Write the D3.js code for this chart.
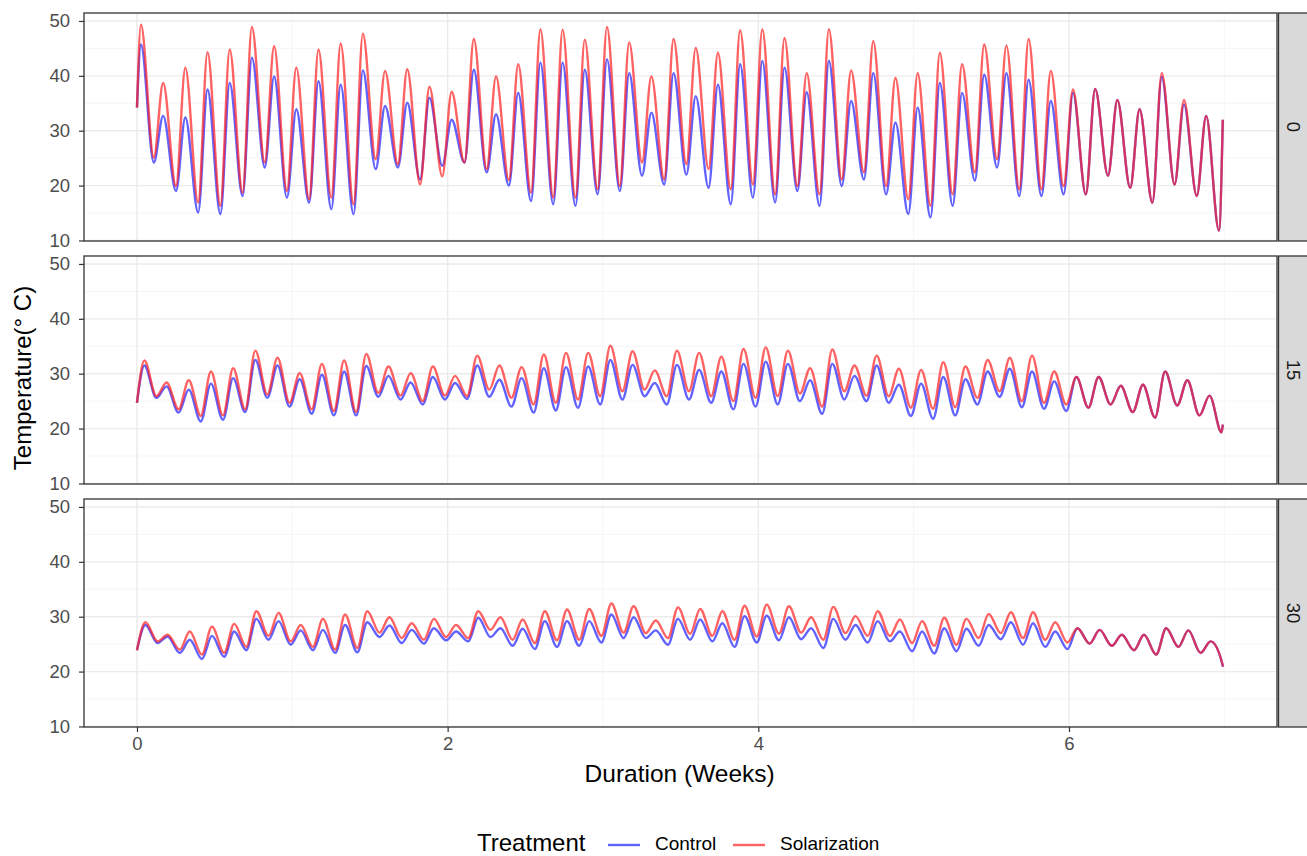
<!DOCTYPE html>
<html>
<head>
<meta charset="utf-8">
<script src="https://cdn.jsdelivr.net/npm/d3@7"></script>
<style>
  body { margin: 0; background: #fff; }
  svg { display: block; font-family: "Liberation Sans", Arial, sans-serif; }
  .grid-major { stroke: #EBEBEB; stroke-width: 1.4; }
  .grid-minor { stroke: #F2F2F2; stroke-width: 0.8; }
  .tick-label { fill: #4D4D4D; font-size: 18.5px; }
</style>
</head>
<body>
<div id="chart"></div>
<script>
// facet strips (soil depth, cm) and legend entries
const depths = ['0', '15', '30'];
const treatments = ['Control', 'Solarization'];
const xTicks = [0, 2, 4, 6];
const xMinor = [1, 3, 5, 7];
const yTicks = [10, 20, 30, 40, 50];
const yMinor = [15, 25, 35, 45];

// hour of the day at which the daily max / min was logged, per depth
const peakHour = [4.3, 8, 9.1];
const lowHour = [18.2, 21, 22.3];
const startTemp = [34.2, 24.7, 23.9];
const endTemp = [32, 20.7, 20.9];
const endWeek = 6.99;

// daily maxima / minima, 49 days each
const ctrl0Peaks = [45.7, 32.7, 32.4, 37.5, 38.7, 43.3, 39.9, 33.9, 39, 38.4, 41, 34.5, 35.1, 36, 32, 41.1, 33, 36.9, 42.4, 42.4, 41.1, 43, 40.5, 33.3, 40.5, 36.3, 38.4, 42.1, 42.7, 41.5, 37, 42.7, 35.4, 40.5, 31.5, 34.2, 38.7, 36.9, 40.2, 40.5, 39.3, 35.4, 36.9, 37.6, 35.6, 33.9, 39.8, 34.8, 32.7];
const ctrl0Lows = [24.2, 19, 15.1, 14.8, 18.1, 23.3, 17.8, 16.9, 15.7, 14.8, 23, 23.3, 21.1, 23.6, 24.2, 22.4, 20, 17.2, 16.6, 16.3, 18.4, 19, 21.8, 20.2, 22, 19.6, 16.6, 17.8, 16.9, 19, 16.3, 19.9, 21.1, 18.4, 14.8, 14.2, 16.3, 20.9, 23.3, 18.1, 18.1, 18.4, 18.4, 21.8, 19.6, 16.9, 20.2, 18.1, 11.8];
const solar0Peaks = [49.3, 38.7, 41.5, 44.3, 44.8, 48.9, 45.4, 41.5, 44.8, 45.9, 47.7, 40.9, 41.2, 38, 37.1, 46.7, 39.9, 42.1, 48.5, 48.4, 46.6, 48.9, 46.1, 39.9, 46.7, 45.1, 44.2, 48.3, 48.5, 46.9, 40.5, 48.5, 41, 46.3, 39.6, 40.5, 44.2, 42.1, 45.7, 45.5, 46.7, 40.9, 37.5, 37.6, 35.6, 33.9, 40.5, 35.6, 32.7];
const solar0Lows = [25.1, 19.9, 16.9, 16.3, 18.7, 24.2, 19, 17.5, 17.8, 16.6, 24.8, 23.9, 20.2, 21.7, 24.2, 23, 21, 18.7, 17.8, 17.8, 19.3, 19.9, 24.2, 21.1, 23.9, 23, 19.3, 20.2, 18.4, 19.9, 18.4, 21.1, 22.4, 19.9, 17.5, 16.3, 18.4, 22.4, 24.8, 19.3, 19.3, 19.9, 18.4, 21.8, 19.6, 16.9, 20.2, 18.1, 11.8];

const ctrl15Peaks = [31.5, 27.7, 27.1, 28.2, 29.2, 32.5, 31.5, 29, 29.8, 30.4, 31.4, 29.6, 28.4, 29.4, 28.3, 31.5, 28.9, 29.2, 31, 31.2, 31.3, 32.5, 31.6, 28.3, 31.6, 30.7, 30.4, 31.8, 32.2, 31.8, 28.8, 31.8, 29.6, 31.5, 28, 28.2, 29.4, 29, 30.4, 30.9, 30.4, 28.6, 29.4, 29.4, 27.8, 28, 30.4, 28.8, 26];
const ctrl15Lows = [25.6, 22.9, 21.3, 21.6, 23, 25.6, 24, 22.7, 22.4, 22.4, 25.8, 25.3, 24.4, 25.3, 25.4, 25.8, 24, 22.9, 23.3, 23.8, 24.4, 25.3, 25.9, 24.4, 25.3, 24.7, 23.5, 24, 24.4, 25, 22.7, 25.3, 25, 24.7, 22.3, 21.8, 22.4, 24.4, 25.8, 23.9, 23.6, 23.2, 23.8, 24.4, 23, 22, 24.2, 22.4, 19.3];
const solar15Peaks = [32.4, 28.4, 28.8, 30.4, 31, 34.2, 32.9, 30.1, 31.8, 32.4, 33.6, 31.3, 30.1, 31.3, 29.6, 33.3, 31.5, 31.2, 33.5, 33.8, 33.8, 35.1, 34.1, 30.6, 34.2, 33.8, 33.1, 34.5, 34.8, 34.2, 31, 34.4, 31.5, 33.3, 30.9, 30.7, 32.1, 31.3, 32.5, 32.9, 33.3, 30.4, 29.4, 29.4, 27.8, 28, 30.4, 28.8, 26];
const solar15Lows = [25.9, 23.5, 22.3, 22.4, 23.5, 26.2, 24.7, 23.5, 23.2, 23, 26.5, 26, 25, 26, 25.9, 27.1, 25.6, 24.4, 24.7, 25.3, 25.9, 26.8, 27.1, 25.9, 26.8, 25.9, 25, 25.6, 25.9, 26.4, 24, 26.8, 26, 25.9, 23.8, 23.6, 23.9, 25.6, 26.8, 25, 24.7, 24.4, 23.8, 24.4, 23, 22, 24.2, 22.4, 19.3];

const ctrl30Peaks = [28.5, 26.4, 25.8, 26.5, 27.3, 29.6, 29.2, 27.5, 27.6, 28.5, 29, 28.4, 27.6, 27.9, 27.3, 29.8, 27.9, 27.8, 29.2, 29.2, 29.2, 30.4, 29.9, 27.5, 29.6, 29.5, 28.8, 30.1, 30.2, 29.9, 27.9, 29.6, 28.5, 29.2, 27.3, 27.3, 27.9, 27.8, 28.5, 29, 28.8, 27.3, 27.9, 27.6, 26.7, 26.7, 27.9, 27.5, 25.5];
const ctrl30Lows = [25.2, 23.4, 22.3, 22.7, 23.9, 25.8, 24.9, 23.9, 23.4, 23.5, 26.3, 25.2, 25.1, 25.7, 25.5, 26.3, 24.7, 24.1, 24.5, 24.7, 25.3, 26.1, 26.1, 24.9, 25.8, 25.5, 24.5, 25.3, 25.7, 25.9, 24.3, 25.8, 25.3, 25.5, 23.7, 23.3, 23.7, 24.7, 25.9, 24.9, 24.5, 24.1, 25.1, 24.7, 23.9, 23.1, 24.5, 23.4, 21.1];
const solar30Peaks = [29, 26.7, 27.3, 28.2, 28.7, 31, 30.7, 28.5, 29.6, 30.4, 31, 29.9, 28.8, 29.6, 28.5, 31, 29.9, 29.5, 31, 31.3, 31.4, 32.4, 31.9, 29.3, 31.7, 31.4, 31, 32, 32.2, 31.9, 29.9, 31.8, 30.1, 31, 29.5, 29.2, 29.8, 29.6, 30.5, 30.8, 30.8, 29, 27.9, 27.6, 26.7, 26.7, 27.9, 27.5, 25.5];
const solar30Lows = [25.5, 24, 23.1, 23.4, 24.5, 26.5, 25.5, 24.5, 24, 24.3, 27.1, 26.1, 25.8, 26.3, 26.1, 27.6, 25.8, 25.2, 25.7, 25.8, 26.5, 27.1, 27, 26.1, 26.9, 26.5, 25.8, 26.4, 26.9, 27.1, 25.8, 27, 26.5, 26.5, 25.2, 24.7, 24.9, 26.1, 27, 26.1, 25.8, 25.3, 25.1, 24.7, 23.9, 23.1, 24.5, 23.4, 21.1];

const peaksBy = {
  Control: [ctrl0Peaks, ctrl15Peaks, ctrl30Peaks],
  Solarization: [solar0Peaks, solar15Peaks, solar30Peaks]
};
const lowsBy = {
  Control: [ctrl0Lows, ctrl15Lows, ctrl30Lows],
  Solarization: [solar0Lows, solar15Lows, solar30Lows]
};
const colors = { Control: '#1f1fff', Solarization: '#ff2020' };

// readings in time order: start, then max/min for every day, then the last log
function series(treatment, i) {
  const peaks = peaksBy[treatment][i];
  const lows = lowsBy[treatment][i];
  const pts = [{ t: 0, v: startTemp[i] }];
  peaks.forEach((p, day) => {
    pts.push({ t: (day * 24 + peakHour[i]) / 168, v: p });
    pts.push({ t: (day * 24 + lowHour[i]) / 168, v: lows[day] });
  });
  pts.push({ t: endWeek, v: endTemp[i] });
  return pts;
}

const W = 1307, H = 856;
const panelLeft = 84, panelRight = 1277;
const panelTops = [13, 256, 499];
const panelH = 228;
const stripW = 34;

const svg = d3.select('#chart').append('svg')
  .attr('width', W)
  .attr('height', H);

const x = d3.scaleLinear().domain([-0.341, 7.339]).range([panelLeft, panelRight]);

depths.forEach((depth, i) => {
  const top = panelTops[i];
  const y = d3.scaleLinear().domain([9.9, 51.45]).range([top + panelH, top]);
  const g = svg.append('g');

  g.append('rect')
    .attr('x', panelLeft).attr('y', top)
    .attr('width', panelRight - panelLeft).attr('height', panelH)
    .attr('fill', '#fff');

  // minor then major grid
  g.selectAll('.ym').data(yMinor).enter().append('line')
    .attr('class', 'grid-minor')
    .attr('x1', panelLeft).attr('x2', panelRight)
    .attr('y1', d => y(d)).attr('y2', d => y(d));
  g.selectAll('.xm').data(xMinor).enter().append('line')
    .attr('class', 'grid-minor')
    .attr('x1', d => x(d)).attr('x2', d => x(d))
    .attr('y1', top).attr('y2', top + panelH);
  g.selectAll('.yM').data(yTicks).enter().append('line')
    .attr('class', 'grid-major')
    .attr('x1', panelLeft).attr('x2', panelRight)
    .attr('y1', d => y(d)).attr('y2', d => y(d));
  g.selectAll('.xM').data(xTicks).enter().append('line')
    .attr('class', 'grid-major')
    .attr('x1', d => x(d)).attr('x2', d => x(d))
    .attr('y1', top).attr('y2', top + panelH);

  const line = d3.line()
    .x(d => x(d.t))
    .y(d => y(d.v))
    .curve(d3.curveMonotoneX);

  treatments.forEach(tr => {
    g.append('path')
      .datum(series(tr, i))
      .attr('fill', 'none')
      .attr('stroke', colors[tr])
      .attr('stroke-opacity', 0.7)
      .attr('stroke-width', 2.4)
      .attr('stroke-linejoin', 'round')
      .attr('d', line);
  });

  g.append('rect')
    .attr('x', panelLeft).attr('y', top)
    .attr('width', panelRight - panelLeft).attr('height', panelH)
    .attr('fill', 'none').attr('stroke', '#333').attr('stroke-width', 1.3);

  // y axis
  const yAxis = g.append('g')
    .attr('transform', `translate(${panelLeft},0)`)
    .call(d3.axisLeft(y).tickValues(yTicks).tickSize(5).tickPadding(9));
  yAxis.select('.domain').remove();
  yAxis.selectAll('.tick line').attr('stroke', '#333').attr('stroke-width', 1.2);
  yAxis.selectAll('.tick text').attr('class', 'tick-label')
    .style('font-family', 'inherit');

  // strip on the right
  g.append('rect')
    .attr('x', panelRight + 1.5).attr('y', top)
    .attr('width', stripW).attr('height', panelH)
    .attr('fill', '#D9D9D9').attr('stroke', '#333').attr('stroke-width', 1.3);
  g.append('text')
    .attr('transform', `translate(${panelRight + 16},${top + panelH / 2}) rotate(90)`)
    .attr('text-anchor', 'middle')
    .attr('dy', '0.35em')
    .attr('fill', '#1A1A1A')
    .style('font-size', '18.5px')
    .text(depth);

  if (i === depths.length - 1) {
    const xAxis = g.append('g')
      .attr('transform', `translate(0,${top + panelH})`)
      .call(d3.axisBottom(x).tickValues(xTicks).tickSize(5).tickPadding(5));
    xAxis.select('.domain').remove();
    xAxis.selectAll('.tick line').attr('stroke', '#333').attr('stroke-width', 1.2);
    xAxis.selectAll('.tick text').attr('class', 'tick-label')
      .style('font-family', 'inherit');
  }
});

// axis titles
svg.append('text')
  .attr('x', (x(0) + x(7)) / 2 - 1).attr('y', 782)
  .attr('text-anchor', 'middle')
  .style('font-size', '24.5px')
  .text('Duration (Weeks)');

svg.append('text')
  .attr('transform', `translate(31,${(panelTops[0] + panelTops[2] + panelH) / 2 + 8}) rotate(-90)`)
  .attr('text-anchor', 'middle')
  .style('font-size', '24px')
  .text('Temperature(° C)');

// legend
const legend = svg.append('g').attr('transform', 'translate(477,845)');
legend.append('text')
  .attr('x', 0).attr('y', 6)
  .style('font-size', '24px')
  .text('Treatment');
const keyX = [131, 256];
const labelX = [178, 303];
treatments.forEach((tr, k) => {
  legend.append('line')
    .attr('x1', keyX[k]).attr('x2', keyX[k] + 32)
    .attr('y1', 0).attr('y2', 0)
    .attr('stroke', colors[tr]).attr('stroke-opacity', 0.7)
    .attr('stroke-width', 2.4);
  legend.append('text')
    .attr('x', labelX[k]).attr('y', 5)
    .style('font-size', '19px')
    .text(tr);
});
</script>
</body>
</html>
